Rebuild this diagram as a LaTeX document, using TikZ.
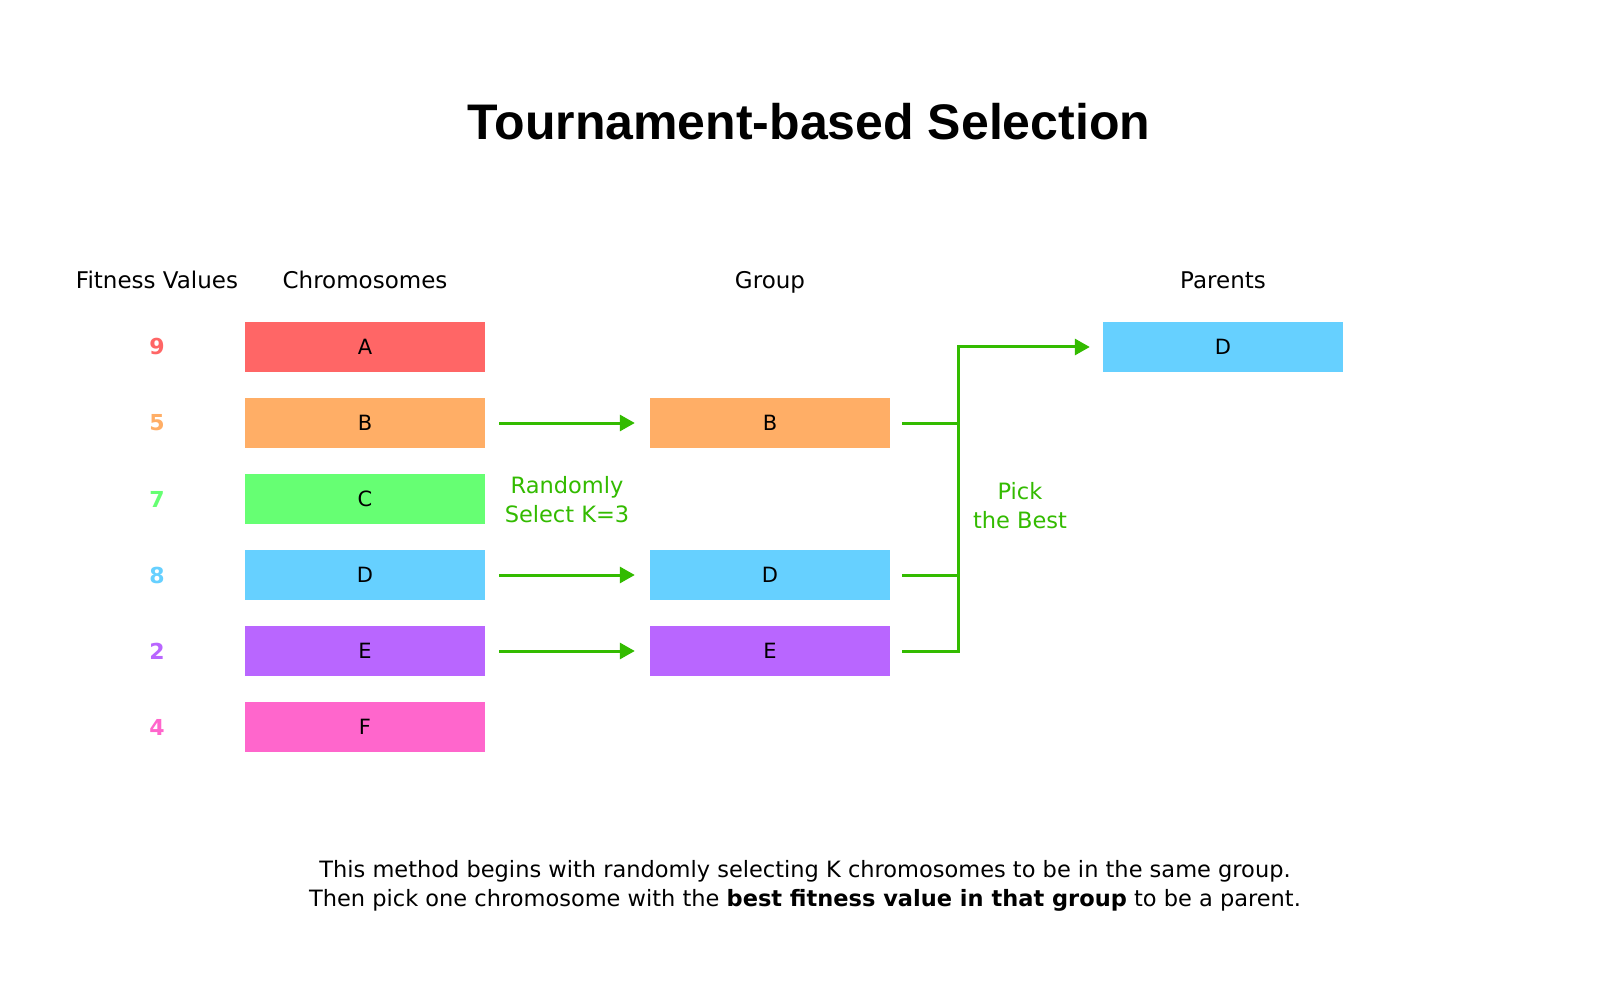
\documentclass[tikz,border=0pt]{standalone}
\usepackage{fontspec}
\setmainfont{DejaVu Sans}
\newfontfamily\titlefont{Liberation Sans}
\usetikzlibrary{arrows.meta}
\definecolor{cA}{HTML}{FF6666}
\definecolor{cB}{HTML}{FFAE66}
\definecolor{cC}{HTML}{66FF73}
\definecolor{cD}{HTML}{66D0FF}
\definecolor{cE}{HTML}{B966FF}
\definecolor{cF}{HTML}{FF66CC}
\definecolor{arrg}{HTML}{33BB00}
\tikzset{
  box/.style={minimum width=240pt, minimum height=50pt, inner sep=0pt, font=\fontsize{21}{24}\selectfont, text=black},
  hdr/.style={font=\fontsize{23}{27}\selectfont, anchor=base},
  fit/.style={font=\fontsize{22}{26}\selectfont\bfseries},
  lbl/.style={font=\fontsize{22.5}{29}\selectfont, text=arrg, align=center},
  conn/.style={draw=arrg, line width=3pt},
  arr/.style={conn, -{Triangle[width=16pt,length=15pt]}},
}
\begin{document}
\begin{tikzpicture}[x=1pt,y=-1pt]
\useasboundingbox[fill=white] (0,0) rectangle (1618,1000);
\node[font=\titlefont\fontsize{50}{58}\selectfont\bfseries] (title) at (809,122) {Tournament-based Selection};
\node[hdr] (hfit) at (157,289) {Fitness Values};
\node[hdr] (hchr) at (365,289) {Chromosomes};
\node[hdr] (hgrp) at (770,289) {Group};
\node[hdr] (hpar) at (1223,289) {Parents};
% fitness values
\node[fit, text=cA] (f1) at (157,347) {9};
\node[fit, text=cB] (f2) at (157,423) {5};
\node[fit, text=cC] (f3) at (157,499) {7};
\node[fit, text=cD] (f4) at (157,575) {8};
\node[fit, text=cE] (f5) at (157,651) {2};
\node[fit, text=cF] (f6) at (157,727) {4};
% chromosomes
\node[box, fill=cA] (chA) at (365,347) {A};
\node[box, fill=cB] (chB) at (365,423) {B};
\node[box, fill=cC] (chC) at (365,499) {C};
\node[box, fill=cD] (chD) at (365,575) {D};
\node[box, fill=cE] (chE) at (365,651) {E};
\node[box, fill=cF] (chF) at (365,727) {F};
% group
\node[box, fill=cB] (gB) at (770,423) {B};
\node[box, fill=cD] (gD) at (770,575) {D};
\node[box, fill=cE] (gE) at (770,651) {E};
% parent
\node[box, fill=cD] (pD) at (1223,347) {D};
% arrows
\draw[arr, shorten <=14pt, shorten >=15pt] (chB.east) -- (gB.west);
\draw[arr, shorten <=14pt, shorten >=15pt] (chD.east) -- (gD.west);
\draw[arr, shorten <=14pt, shorten >=15pt] (chE.east) -- (gE.west);
\node[lbl] (rand) at (567,500) {Randomly\\Select K=3};
\coordinate (j) at (958,651);
\draw[conn, shorten <=12pt] (gB.east) -- (gB.east -| j);
\draw[conn, shorten <=12pt] (gD.east) -- (gD.east -| j);
\draw[arr, shorten <=12pt, shorten >=13pt] (gE.east) -- (gE.east -| j) |- (pD.west);
\node[lbl] (pick) at (1020,506) {Pick\\the Best};
\node[font=\fontsize{22.5}{29}\selectfont, align=center] (desc) at (805,886) {This method begins with randomly selecting K chromosomes to be in the same group.\\Then pick one chromosome with the \textbf{best fitness value in that group} to be a parent.};
\end{tikzpicture}
\end{document}
